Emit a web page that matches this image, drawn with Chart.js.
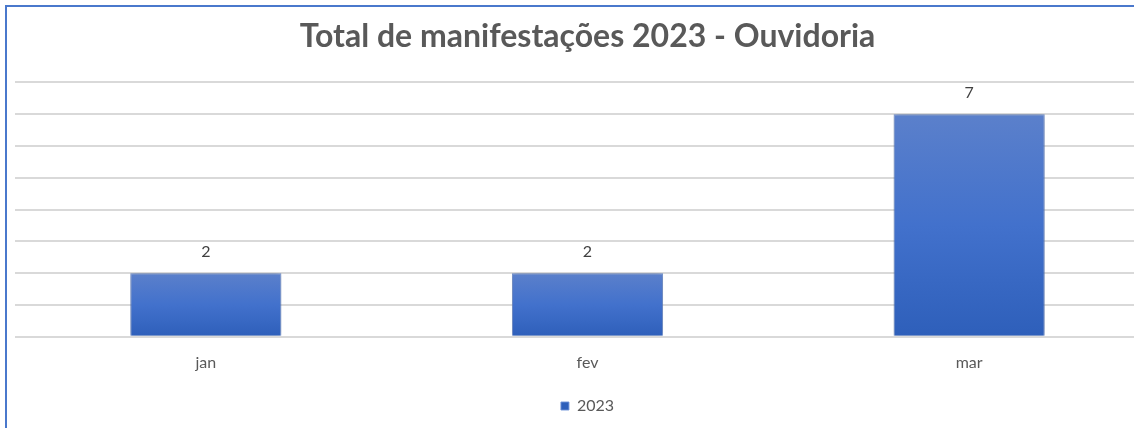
<!DOCTYPE html>
<html lang="pt-br">
<head>
    <meta charset="UTF-8">
    <title>Total de manifestações 2023 - Ouvidoria</title>
    <script src="https://cdn.jsdelivr.net/npm/chart.js"></script>
    <style>
        html, body {
            margin: 0;
            padding: 0;
            background: #ffffff;
            overflow: hidden;
            width: 1134px;
            height: 428px;
        }
        .frame {
            position: absolute;
            left: 5px;
            top: 5px;
            width: 1200px;
            height: 500px;
            border: 2px solid #4a78cc;
            box-sizing: border-box;
        }
        .chart-container {
            position: absolute;
            left: 0;
            top: 0;
            width: 1160px;
            height: 428px;
        }
    </style>
</head>
<body>
    <div class="frame"></div>
    <div class="chart-container">
        <canvas id="ouvidoriaChart"></canvas>
    </div>

    <script>
        // Dados do gráfico
        const meses = ['jan', 'fev', 'mar'];
        const manifestacoes = [2, 2, 7];
        const serieNome = '2023';
        const eixoMax = 8;

        // Gradiente por barra (claro em cima, escuro embaixo)
        function barGradient(context) {
            const chart = context.chart;
            const { ctx, chartArea, scales } = chart;
            if (!chartArea || context.raw === undefined) return '#4472c4';
            const topo = scales.y.getPixelForValue(context.raw);
            const base = scales.y.getPixelForValue(0);
            const g = ctx.createLinearGradient(0, topo, 0, base);
            g.addColorStop(0, '#5b80cb');
            g.addColorStop(0.5, '#4271cc');
            g.addColorStop(1, '#2e5fba');
            return g;
        }

        // Sombra nas barras
        const sombraBarras = {
            id: 'sombraBarras',
            beforeDatasetsDraw(chart) {
                const ctx = chart.ctx;
                ctx.save();
                ctx.shadowColor = 'rgba(0, 0, 0, 0.3)';
                ctx.shadowBlur = 6;
                ctx.shadowOffsetX = 0;
                ctx.shadowOffsetY = 0;
            },
            afterDatasetsDraw(chart) {
                chart.ctx.restore();
            }
        };

        // Rótulos de valor acima das barras
        const rotulosValor = {
            id: 'rotulosValor',
            afterDatasetsDraw(chart) {
                const ctx = chart.ctx;
                ctx.save();
                ctx.font = '16px Lato, "Open Sans", sans-serif';
                ctx.fillStyle = '#404040';
                ctx.textAlign = 'center';
                ctx.textBaseline = 'middle';
                chart.getDatasetMeta(0).data.forEach((bar, i) => {
                    ctx.fillText(String(manifestacoes[i]), bar.x, bar.y - 21);
                });
                ctx.restore();
            }
        };

        new Chart(document.getElementById('ouvidoriaChart'), {
            type: 'bar',
            data: {
                labels: meses,
                datasets: [{
                    label: serieNome,
                    data: manifestacoes,
                    backgroundColor: barGradient,
                    borderColor: 'rgba(110, 145, 215, 0.9)',
                    borderWidth: 1,
                    barPercentage: 0.396,
                    categoryPercentage: 1.0
                }]
            },
            options: {
                responsive: true,
                maintainAspectRatio: false,
                animation: false,
                devicePixelRatio: 1,
                layout: {
                    padding: { left: 15, right: 0, top: 0, bottom: 4 }
                },
                plugins: {
                    title: {
                        display: true,
                        text: 'Total de manifestações 2023 - Ouvidoria',
                        color: '#595959',
                        font: { family: 'Lato, "Open Sans", sans-serif', size: 32, weight: 'bold' },
                        padding: { top: 17, bottom: 27 }
                    },
                    legend: {
                        position: 'bottom',
                        labels: {
                            color: '#595959',
                            font: { family: 'Lato, "Open Sans", sans-serif', size: 16 },
                            boxWidth: 8,
                            boxHeight: 8,
                            padding: 10
                        }
                    },
                    tooltip: { enabled: false }
                },
                scales: {
                    x: {
                        grid: { display: false },
                        border: { display: false },
                        ticks: {
                            color: '#595959',
                            font: { family: 'Lato, "Open Sans", sans-serif', size: 16 },
                            padding: 8
                        },
                        afterFit(scale) {
                            scale.height += 8;
                        }
                    },
                    y: {
                        min: 0,
                        max: eixoMax,
                        ticks: { display: false, stepSize: 1 },
                        border: { display: false },
                        grid: {
                            color: '#d9d9d9',
                            lineWidth: 2,
                            drawTicks: false
                        }
                    }
                }
            },
            plugins: [sombraBarras, rotulosValor]
        });
    </script>
</body>
</html>
